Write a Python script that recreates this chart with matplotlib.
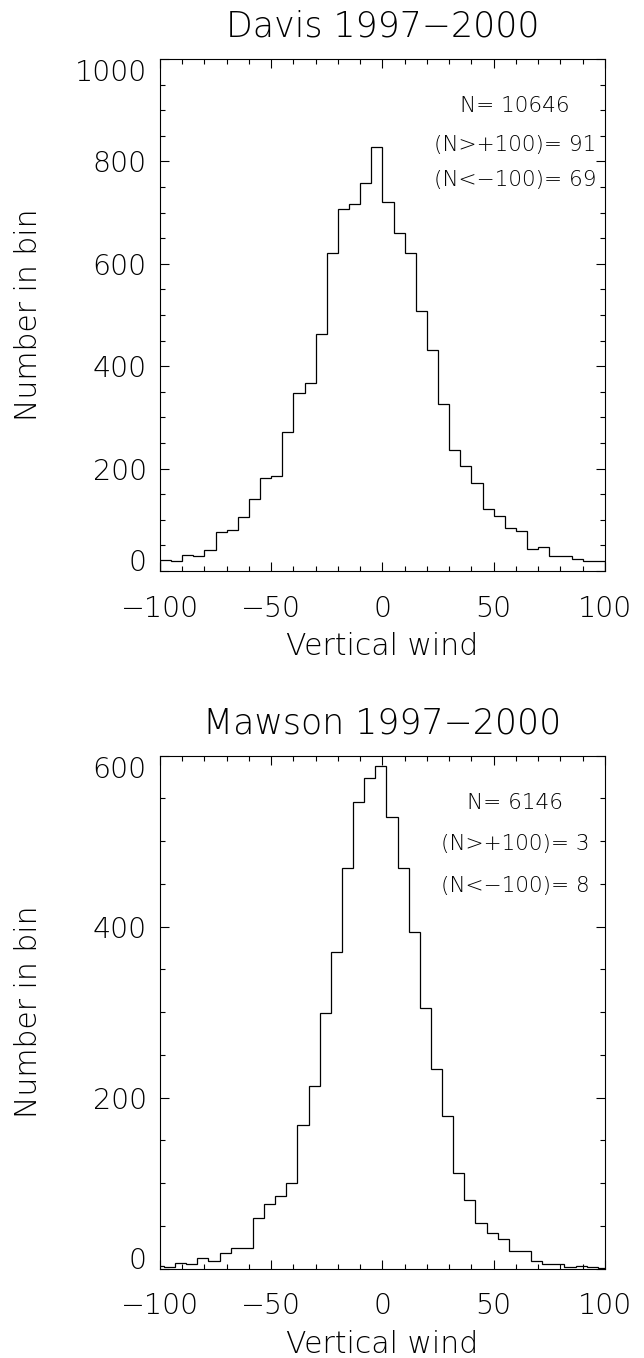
import numpy as np
import matplotlib
matplotlib.use("Agg")
import matplotlib.pyplot as plt

# --- data (counts per 5-unit bin) ---
davis_edges = np.arange(-100, 101, 5)
davis_counts = [22, 19, 31, 30, 42, 77, 80, 105, 140, 182,
                186, 271, 348, 367, 463, 621, 708, 716, 758, 829,
                720, 660, 622, 508, 432, 326, 237, 206, 172, 121,
                108, 85, 78, 43, 47, 29, 29, 23, 19, 19]

# Mawson bins are offset from the round numbers
mawson_edges = np.arange(-103.2, 102, 5)
mawson_counts = [3, 2, 7, 6, 13, 9, 18, 24, 24, 59,
                 76, 85, 100, 168, 214, 299, 370, 468, 546, 574,
                 588, 528, 468, 394, 305, 234, 178, 112, 80, 53,
                 42, 35, 21, 21, 9, 5, 5, 2, 3, 2, 1]

titles = ["Davis 1997\u22122000", "Mawson 1997\u22122000"]
notes = [["N= 10646", "(N>+100)= 91", "(N<\u2212100)= 69"],
         ["N= 6146", "(N>+100)= 3", "(N<\u2212100)= 8"]]
note_y = [[0.913, 0.836, 0.768], [0.912, 0.832, 0.75]]
ymax = [1000, 600]

x_major = [-100, -50, 0, 50, 100]
x_minor = np.arange(-100, 101, 10)

# thin strokes, closest thing to the IDL vector font
plt.rcParams["font.family"] = ["DejaVu Sans"]
plt.rcParams["font.weight"] = 200
plt.rcParams["axes.titleweight"] = 200
plt.rcParams["axes.labelweight"] = 200

fig = plt.figure(figsize=(6.44, 13.58), dpi=100)
ax1 = fig.add_axes([0.2484, 0.5795, 0.691, 0.3770])
ax2 = fig.add_axes([0.2484, 0.0658, 0.691, 0.3778])

panels = [(ax1, davis_edges, davis_counts), (ax2, mawson_edges, mawson_counts)]

for i, (ax, edges, counts) in enumerate(panels):
    ax.stairs(counts, edges, color="black", linewidth=0.9)
    ax.set_xlim(-100, 100)
    ax.set_ylim(0, ymax[i])

    ax.set_xticks(x_major)
    ax.set_xticks(x_minor, minor=True)
    ax.set_yticks(np.arange(0, ymax[i] + 1, 200))
    ax.set_yticks(np.arange(0, ymax[i] + 1, 50), minor=True)

    ax.tick_params(which="both", direction="in", top=True, right=True,
                   width=0.8, colors="black", labelsize=20.5)
    ax.tick_params(which="major", length=6.5)
    ax.tick_params(which="minor", length=3.5)
    ax.tick_params(axis="x", pad=17)
    ax.tick_params(axis="y", pad=9.5)
    for sp in ax.spines.values():
        sp.set_linewidth(0.8)

    # IDL keeps the end labels inside the axis range
    ylabels = ax.get_yticklabels()
    ylabels[0].set_va("baseline")
    ylabels[-1].set_va("top")

    ax.set_xlabel("Vertical wind", fontsize=21.5, fontweight=200)
    ax.xaxis.set_label_coords(0.5, -0.12)
    ax.set_ylabel("Number in bin", fontsize=21.5, fontweight=200)
    ax.yaxis.set_label_coords(-0.262, 0.5)
    ax.set_title(titles[i], fontsize=25, pad=16, fontweight=200)

    for txt, yy in zip(notes[i], note_y[i]):
        ax.text(0.798, yy, txt, transform=ax.transAxes, fontsize=15.6,
                fontweight=200, ha="center", va="center_baseline")

fig.savefig("out.png", dpi=100)
